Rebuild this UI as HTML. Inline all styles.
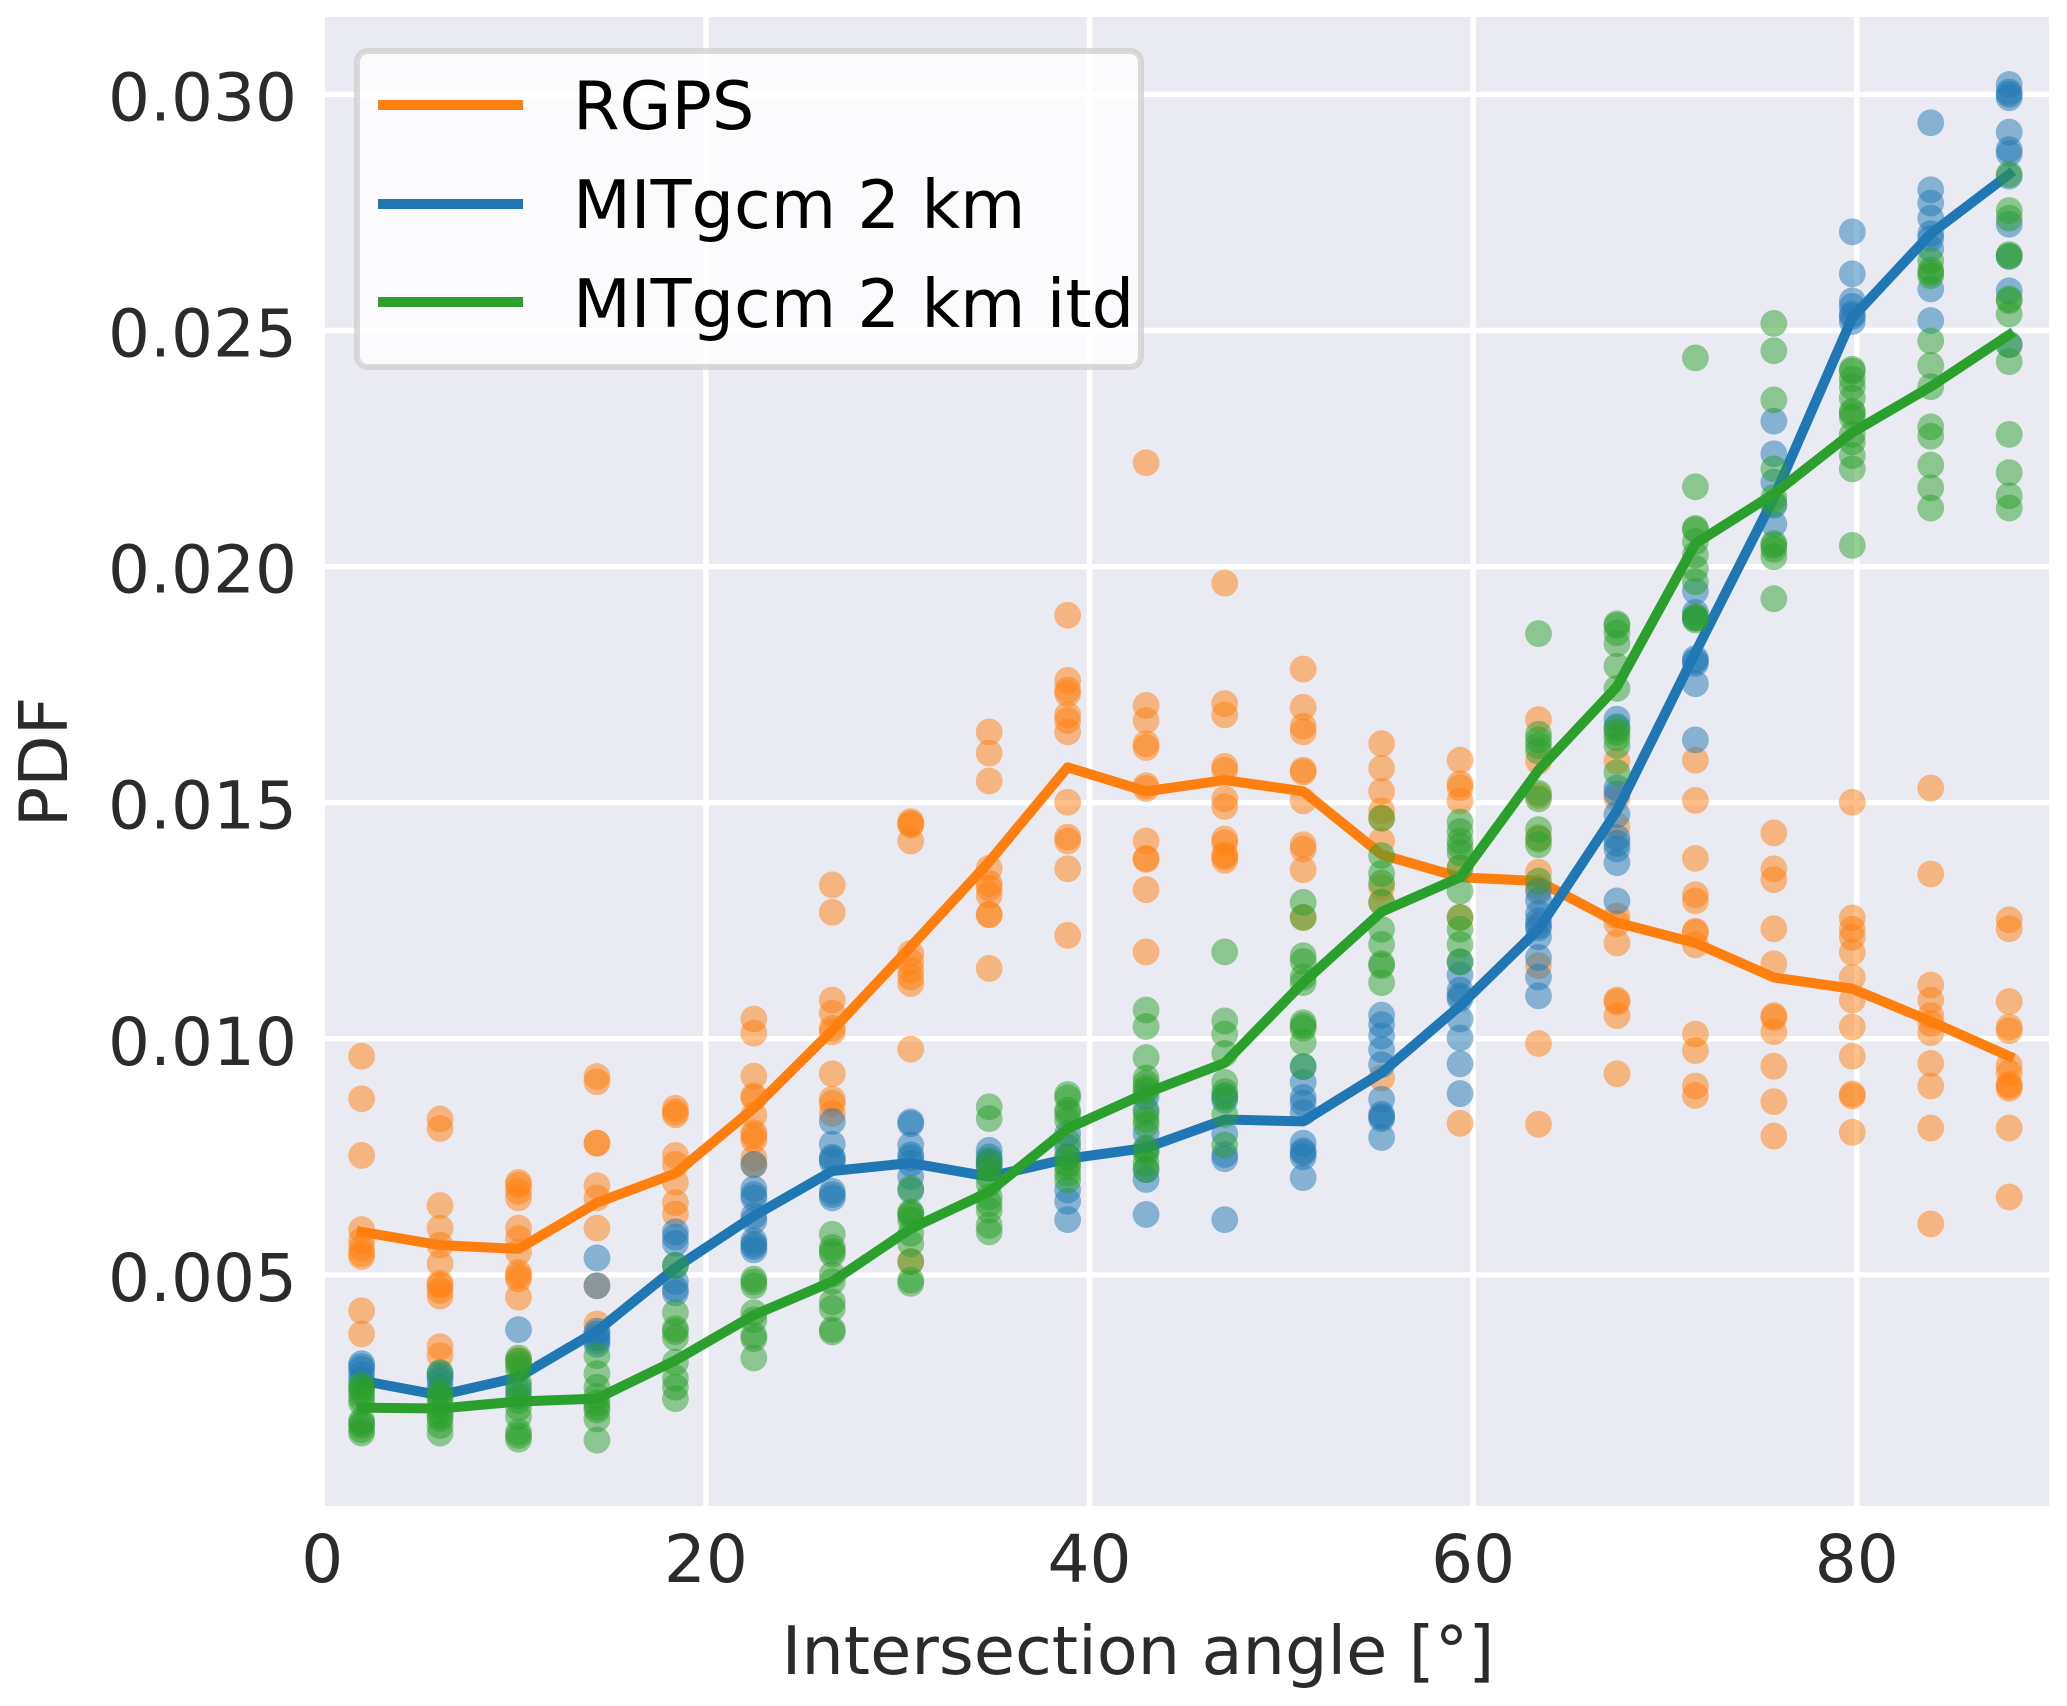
<!DOCTYPE html>
<html lang="en">
<head>
<meta charset="utf-8">
<title>PDF of intersection angle</title>
<style>
html,body{margin:0;padding:0;background:#fff;width:2067px;height:1706px;overflow:hidden}
svg{display:block}
text{font-family:"DejaVu Sans","Liberation Sans",sans-serif;font-size:67px;fill:#2b2b2b}
#xticks text,#yticks text{font-size:66px}
</style>
</head>
<body>
<svg id="chart" xmlns="http://www.w3.org/2000/svg" width="2067" height="1706" viewBox="0 0 2067 1706">
  <rect x="0" y="0" width="2067" height="1706" fill="#ffffff"/>
  <rect x="325" y="17" width="1724" height="1489" fill="#eaeaf2"/>
  <g id="grid"></g>
  <g id="xticks"></g>
  <g id="yticks"></g>
  <g id="series"></g>
  <text x="1138" y="1674" text-anchor="middle">Intersection angle [°]</text>
  <text transform="translate(67,762) rotate(-90)" text-anchor="middle">PDF</text>
  <g>
    <rect x="357" y="51" width="784" height="316" rx="11" ry="11" fill="#ffffff" fill-opacity="0.8" stroke="#cccccc" stroke-opacity="0.7" stroke-width="6"/>
    <g>
      <line x1="378" x2="523" y1="105" y2="105" stroke="#ff7f0e" stroke-width="10"/>
      <text x="573" y="129" style="fill:#000">RGPS</text>
    </g>
    <g>
      <line x1="378" x2="523" y1="204" y2="204" stroke="#1f77b4" stroke-width="10"/>
      <text x="573" y="228" style="fill:#000">MITgcm 2 km</text>
    </g>
    <g>
      <line x1="378" x2="523" y1="302" y2="302" stroke="#2ca02c" stroke-width="10"/>
      <text x="573" y="327" style="fill:#000">MITgcm 2 km itd</text>
    </g>
  </g>
</svg>
<script>
const angleBins = [2.05,6.14,10.23,14.32,18.41,22.5,26.59,30.68,34.77,38.86,42.95,47.05,51.14,55.23,59.32,63.41,67.5,71.59,75.68,79.77,83.86,87.95];
const xTickValues = [0,20,40,60,80];
const yTickValues = [0.005,0.010,0.015,0.020,0.025,0.030];
const yTickLabels = ["0.005","0.010","0.015","0.020","0.025","0.030"];

const rgpsMean = [.00591,.00563,.00555,.00653,.00715,.00853,.01018,.01195,.01375,.01575,.01524,.01548,.01524,.01390,.01342,.01334,.01246,.01203,.01130,.01106,.01037,.00963];
const mit2kmMean = [.00276,.00245,.00283,.00381,.00515,.00625,.00720,.00737,.00708,.00746,.00769,.00829,.00825,.00928,.01070,.01232,.01483,.01818,.02146,.02527,.02705,.02831];
const mit2kmItdMean = [.00219,.00217,.00232,.00238,.00319,.00415,.00486,.00598,.00676,.00810,.00885,.00949,.01119,.01269,.01342,.01569,.01746,.02049,.02154,.02284,.02381,.02491];

const rgpsSamples = [
[.00963,.00873,.00753,.00596,.00572,.00557,.00545,.00539,.00424,.00375],
[.00830,.00810,.00647,.00599,.00563,.00524,.00482,.00478,.00467,.00455,.00348,.00329],
[.00696,.00690,.00677,.00663,.00599,.00577,.00548,.00505,.00498,.00491,.00453,.00319],
[.00920,.00909,.00779,.00779,.00689,.00663,.00599,.00477,.00396],
[.00853,.00845,.00839,.00753,.00734,.00696,.00653,.00629],
[.01042,.01012,.00921,.00879,.00875,.00838,.00801,.00795,.00786,.00747,.00733],
[.01326,.01268,.01082,.01054,.01022,.01015,.00926,.00872,.00863,.00842],
[.01460,.01456,.01453,.01419,.01181,.01163,.01146,.01131,.01117,.00978,.00528],
[.01650,.01605,.01546,.01361,.01329,.01319,.01304,.01263,.01263,.01149],
[.01897,.01759,.01739,.01731,.01686,.01674,.01650,.01501,.01427,.01419,.01360,.01219],
[.02220,.01706,.01674,.01625,.01617,.01536,.01530,.01419,.01382,.01380,.01316,.01184],
[.01965,.01710,.01686,.01577,.01569,.01508,.01492,.01423,.01415,.01390,.01385,.01378],
[.01783,.01702,.01662,.01650,.01569,.01565,.01504,.01411,.01402,.01358,.01257],
[.01625,.01573,.01524,.01483,.01467,.01419,.01321,.01289,.00917],
[.01590,.01540,.01532,.01504,.01362,.01257,.00821],
[.01676,.01588,.01515,.01426,.01353,.01321,.01155,.00990,.00819],
[.01588,.01510,.01450,.01260,.01244,.01203,.01082,.01078,.01049,.00926],
[.01590,.01505,.01382,.01305,.01292,.01228,.01225,.01199,.01010,.00975,.00900,.00880],
[.01436,.01360,.01337,.01233,.01159,.01049,.01045,.01015,.00942,.00867,.00794],
[.01501,.01256,.01232,.01215,.01183,.01130,.01082,.01025,.00963,.00883,.00879,.00802],
[.01531,.01349,.01114,.01082,.01049,.01033,.01013,.00948,.00900,.00811,.00608],
[.01252,.01233,.01079,.01025,.01017,.00944,.00928,.00904,.00900,.00895,.00811,.00665]
];
const mit2kmSamples = [
[.00312,.00306,.00300,.00289,.00277],
[.00291,.00285,.00276,.00262],
[.00384,.00262,.00243],
[.00536,.00477,.00381,.00375,.00367,.00360,.00353],
[.00591,.00580,.00567,.00520,.00486,.00470,.00462],
[.00734,.00682,.00670,.00663,.00625,.00615,.00572,.00565,.00560,.00553],
[.00825,.00777,.00749,.00745,.00739,.00677,.00670,.00663],
[.00824,.00820,.00775,.00754,.00748,.00736,.00708,.00679],
[.00764,.00750,.00740,.00736,.00729],
[.00799,.00770,.00750,.00680,.00656,.00617],
[.00878,.00850,.00800,.00765,.00723,.00702,.00628],
[.00880,.00870,.00799,.00755,.00746,.00617],
[.00941,.00908,.00876,.00864,.00844,.00779,.00763,.00758,.00750,.00706],
[.01050,.01030,.01006,.00977,.00945,.00872,.00840,.00835,.00831,.00791],
[.01163,.01135,.01103,.01091,.01085,.01042,.01002,.00947,.00884],
[.01313,.01293,.01265,.01250,.01240,.01235,.01216,.01172,.01131,.01091],
[.01677,.01661,.01531,.01519,.01475,.01426,.01414,.01402,.01373,.01292],
[.01948,.01903,.01891,.01805,.01800,.01795,.01752,.01633],
[.02308,.02239,.02179,.02130,.02090],
[.02709,.02620,.02563,.02551,.02535,.02530,.02519],
[.02940,.02798,.02770,.02738,.02705,.02695,.02673,.02588,.02521],
[.03021,.03005,.03000,.02993,.02920,.02883,.02875,.02827,.02725,.02657,.02584,.02470]
];
const mit2kmItdSamples = [
[.00267,.00262,.00257,.00248,.00238,.00229,.00191,.00186,.00181,.00172,.00165],
[.00293,.00253,.00245,.00238,.00224,.00210,.00202,.00195,.00181,.00165],
[.00324,.00317,.00310,.00300,.00272,.00253,.00234,.00219,.00200,.00167,.00160,.00152],
[.00329,.00291,.00262,.00243,.00229,.00220,.00214,.00195,.00150],
[.00520,.00420,.00386,.00380,.00367,.00315,.00281,.00262,.00238],
[.00491,.00485,.00477,.00420,.00405,.00372,.00365,.00324],
[.00586,.00558,.00550,.00544,.00501,.00486,.00443,.00429,.00379,.00384],
[.00683,.00633,.00630,.00626,.00616,.00588,.00566,.00528,.00489,.00482],
[.00856,.00831,.00743,.00729,.00708,.00693,.00665,.00651,.00637,.00605,.00591],
[.00882,.00875,.00849,.00842,.00828,.00782,.00750,.00736,.00729,.00715,.00701],
[.01061,.01026,.00960,.00917,.00906,.00896,.00890,.00843,.00829,.00818,.00769,.00758,.00737,.00723],
[.01184,.01038,.01010,.00969,.00908,.00888,.00876,.00840,.00775],
[.01289,.01257,.01176,.01164,.01131,.01119,.01034,.01028,.01022,.00993,.00941],
[.01467,.01388,.01350,.01330,.01289,.01232,.01200,.01159,.01155,.01119],
[.01459,.01439,.01419,.01407,.01394,.01362,.01313,.01257,.01232,.01200,.01163],
[.01858,.01645,.01633,.01621,.01609,.01520,.01508,.01443,.01423,.01411,.01334],
[.01879,.01875,.01860,.01837,.01789,.01742,.01657,.01649,.01637,.01621,.01564],
[.02442,.02169,.02081,.02078,.02053,.02025,.01996,.01968,.01895,.01891,.01887],
[.02515,.02457,.02353,.02207,.02146,.02134,.02049,.02045,.02037,.02021,.01932],
[.02418,.02414,.02397,.02381,.02357,.02329,.02325,.02316,.02280,.02264,.02235,.02207,.02045],
[.02648,.02628,.02622,.02616,.02478,.02426,.02381,.02296,.02276,.02215,.02167,.02124],
[.02831,.02754,.02738,.02661,.02657,.02567,.02563,.02535,.02470,.02434,.02280,.02199,.02150,.02124]
];

const NS = "http://www.w3.org/2000/svg";
function xScale(v){ return 322.3 + 19.18 * v; }
function yScale(v){ return 94.4 + (0.030 - v) * 47220; }

function make(tag, parent){
  const el = document.createElementNS(NS, tag);
  parent.appendChild(el);
  return el;
}

const gridGroup = document.getElementById("grid");
const xTickGroup = document.getElementById("xticks");
const yTickGroup = document.getElementById("yticks");
const seriesGroup = document.getElementById("series");

xTickValues.forEach(function(v){
  const px = xScale(v);
  if (v > 0) {
    const g = make("line", gridGroup);
    
    
    g.setAttribute("x1", px); g.setAttribute("x2", px);
    g.setAttribute("y1", 17); g.setAttribute("y2", 1506);
    g.setAttribute("stroke", "#ffffff"); g.setAttribute("stroke-width", 5.5);
  }
  const t = make("text", xTickGroup);
  
  
  t.setAttribute("x", px); t.setAttribute("y", 1582);
  t.setAttribute("text-anchor", "middle");
  t.textContent = String(v);
});

yTickValues.forEach(function(v, i){
  const py = yScale(v);
  const g = make("line", gridGroup);
  
  
  g.setAttribute("x1", 325); g.setAttribute("x2", 2049);
  g.setAttribute("y1", py); g.setAttribute("y2", py);
  g.setAttribute("stroke", "#ffffff"); g.setAttribute("stroke-width", 5.5);
  const t = make("text", yTickGroup);
  
  
  t.setAttribute("x", 297); t.setAttribute("y", py + 26);
  t.setAttribute("text-anchor", "end");
  t.textContent = yTickLabels[i];
});

function drawSeries(samples, mean, color){
  samples.forEach(function(col, i){
    col.forEach(function(v){
      const c = make("circle", seriesGroup);
      
      
      c.setAttribute("cx", xScale(angleBins[i]));
      c.setAttribute("cy", yScale(v));
      c.setAttribute("r", 13.4);
      c.setAttribute("fill", color);
      c.setAttribute("fill-opacity", 0.5);
    });
  });
  const line = make("polyline", seriesGroup);
  
  
  line.setAttribute("points", mean.map(function(v, i){ return xScale(angleBins[i]) + "," + yScale(v); }).join(" "));
  line.setAttribute("fill", "none");
  line.setAttribute("stroke", color);
  line.setAttribute("stroke-width", 10);
  line.setAttribute("stroke-linejoin", "round");
  line.setAttribute("stroke-linecap", "square");
}

drawSeries(rgpsSamples, rgpsMean, "#ff7f0e");
drawSeries(mit2kmSamples, mit2kmMean, "#1f77b4");
drawSeries(mit2kmItdSamples, mit2kmItdMean, "#2ca02c");
</script>
</body>
</html>
